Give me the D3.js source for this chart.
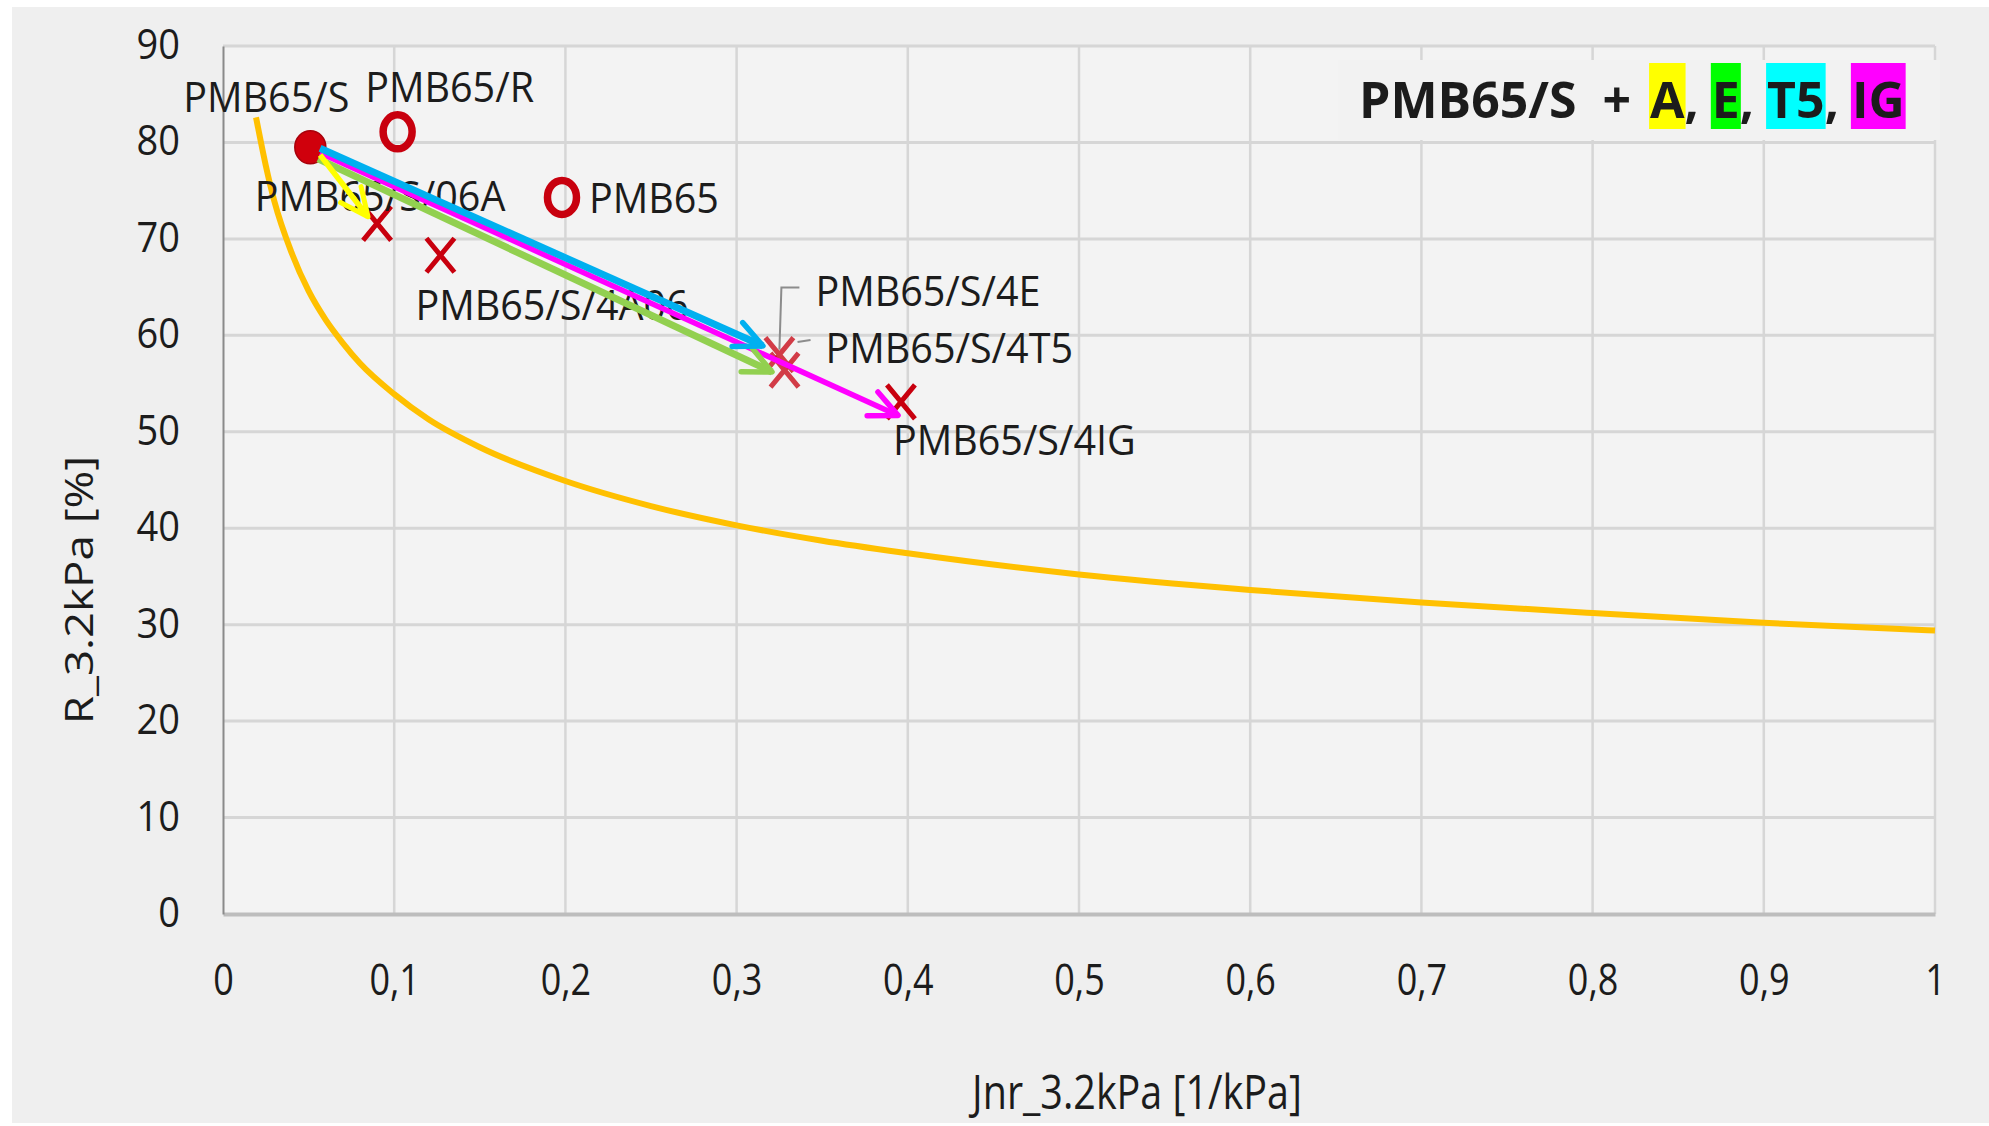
<!DOCTYPE html>
<html lang="en">

<head>
    <meta charset="UTF-8">
    <script src="https://d3js.org/d3.v7.min.js"></script>
    <title>R_3.2kPa vs Jnr_3.2kPa</title>

    <style>
        body {
            margin: 0;
            background: #fff;
        }

        svg text {
            font-family: "Open Sans", sans-serif;
            fill: #1c1c1c;
        }
    </style>
</head>

<body>
    <div id="chart"></div>

    <script>
        /*** DATA ***/
        // Orange limit curve
        var curveJnr = [0.0193, 0.025, 0.03, 0.04, 0.05, 0.06, 0.07, 0.08, 0.1, 0.12, 0.15, 0.2, 0.25, 0.3, 0.35, 0.4, 0.5, 0.6, 0.7, 0.8, 0.9, 1.0];
        var curveR = [82.6, 77.6, 73.9, 68.6, 64.6, 61.6, 59.2, 57.1, 53.9, 51.3, 48.4, 44.9, 42.3, 40.3, 38.7, 37.4, 35.2, 33.6, 32.3, 31.2, 30.2, 29.4];

        // Binder samples
        var sampleNames = ["PMB65/S", "PMB65/R", "PMB65", "PMB65/S/06A", "PMB65/S/4A06", "PMB65/S/4E", "PMB65/S/4T5", "PMB65/S/4IG"];
        var sampleJnr = [0.051, 0.102, 0.198, 0.090, 0.127, 0.325, 0.328, 0.396];
        var sampleR = [79.5, 81.1, 74.3, 71.6, 68.3, 58.0, 56.4, 53.1];
        var sampleMarker = ["dot", "ring", "ring", "cross", "cross", "cross", "cross", "cross"];

        // Arrows from PMB65/S towards the modified binders
        var arrowColors = ["#ff00ff", "#92d050", "#00b0f0", "#ffff00"];
        var arrowFromJnr = [0.0567, 0.0555, 0.0567, 0.0567];
        var arrowFromR = [78.9, 78.3, 79.4, 78.7];
        var arrowToJnr = [0.3943, 0.3207, 0.3154, 0.0847];
        var arrowToR = [51.7, 56.2, 58.9, 72.3];

        // Axis ticks
        var xTicks = [0, 0.1, 0.2, 0.3, 0.4, 0.5, 0.6, 0.7, 0.8, 0.9, 1];
        var yTicks = [0, 10, 20, 30, 40, 50, 60, 70, 80, 90];

        // Legend text pieces
        var legendParts = ["PMB65/S", "  + ", "A", ", ", "E", ", ", "T5", ", ", "IG"];
        var legendHighlight = [null, null, "#ffff00", null, "#00ff00", null, "#00ffff", null, "#ff00ff"];

        /*** LAYOUT ***/
        var width = 1989,
            height = 1126;

        var x = d3.scaleLinear().domain([0, 1]).range([223, 1935]);
        var y = d3.scaleLinear().domain([0, 90]).range([914, 46]);

        // label offsets in px from the marker (dx, dy, anchor)
        var labelPos = {
            "PMB65/S": [-44, -50, "middle"],
            "PMB65/R": [52, -45, "middle"],
            "PMB65": [27, 1, "start"],
            "PMB65/S/06A": [3, -28, "middle"],
            "PMB65/S/4A06": [-25, 50, "start"],
            "PMB65/S/4E": [36, -64, "start"],
            "PMB65/S/4T5": [41, -22, "start"],
            "PMB65/S/4IG": [-8, 38, "start"]
        };

        var svg = d3.select("#chart")
            .append("svg")
            .attr("width", width)
            .attr("height", height);

        // backgrounds
        svg.append("rect").attr("width", width).attr("height", height).attr("fill", "#ffffff");
        svg.append("rect")
            .attr("x", 12).attr("y", 7)
            .attr("width", width - 12).attr("height", height - 10)
            .attr("fill", "#efefef");
        svg.append("rect")
            .attr("x", x(0)).attr("y", y(90))
            .attr("width", x(1) - x(0)).attr("height", y(0) - y(90))
            .attr("fill", "#f3f3f3");

        // grid
        svg.append("g").selectAll("line")
            .data(yTicks.slice(1))
            .enter().append("line")
            .attr("x1", x(0)).attr("x2", x(1))
            .attr("y1", function (d) { return y(d); })
            .attr("y2", function (d) { return y(d); })
            .attr("stroke", "#d6d6d6")
            .attr("stroke-width", 3);

        svg.append("g").selectAll("line")
            .data(xTicks.slice(1))
            .enter().append("line")
            .attr("x1", function (d) { return x(d); })
            .attr("x2", function (d) { return x(d); })
            .attr("y1", y(90)).attr("y2", y(0))
            .attr("stroke", "#d6d6d6")
            .attr("stroke-width", 2.5);

        // axes
        var xAxis = d3.axisBottom(x)
            .tickValues(xTicks)
            .tickSize(0)
            .tickFormat(function (d) { return String(d).replace(".", ","); });

        var gx = svg.append("g")
            .attr("transform", "translate(0," + y(0) + ")")
            .call(xAxis)
            .attr("font-family", null)
            .attr("font-size", 36);
        gx.select(".domain")
            .attr("stroke", "#bdbdbd")
            .attr("stroke-width", 4);
        gx.selectAll(".tick text")
            .attr("y", 0)
            .attr("dy", "0.36em")
            .attr("transform", "translate(0,65) scale(1,1.22)");

        var yAxis = d3.axisLeft(y)
            .tickValues(yTicks)
            .tickSize(0)
            .tickPadding(43);

        var gy = svg.append("g")
            .attr("transform", "translate(" + x(0) + ",0)")
            .call(yAxis)
            .attr("font-family", null)
            .attr("font-size", 38);
        gy.select(".domain")
            .attr("stroke", "#8a8a8a")
            .attr("stroke-width", 2);
        gy.selectAll(".tick text")
            .attr("dy", "0.34em")
            .attr("transform", "translate(0,-2) scale(1,1.12)");

        // axis titles
        svg.append("text")
            .attr("transform", "translate(1137,1092) scale(1,1.2)")
            .attr("text-anchor", "middle")
            .attr("dy", "0.35em")
            .attr("font-size", 39.5)
            .text("Jnr_3.2kPa [1/kPa]");

        svg.append("text")
            .attr("transform", "translate(80,590) rotate(-90) scale(1.2,1)")
            .attr("text-anchor", "middle")
            .attr("dy", "0.35em")
            .attr("font-size", 38)
            .text("R_3.2kPa [%]");

        // limit curve
        var line = d3.line()
            .x(function (d, i) { return x(curveJnr[i]); })
            .y(function (d, i) { return y(curveR[i]); })
            .curve(d3.curveMonotoneX);

        svg.append("path")
            .attr("d", line(curveJnr))
            .attr("fill", "none")
            .attr("stroke", "#ffc000")
            .attr("stroke-width", 6);

        // leader lines for the two crowded labels
        var leaders = [
            [[0, -5], [2, -67], [20, -67]],
            [[13, -28], [26, -30]]
        ];
        [5, 6].forEach(function (k, j) {
            var px = x(sampleJnr[k]), py = y(sampleR[k]);
            svg.append("path")
                .attr("d", d3.line()(leaders[j].map(function (p) { return [px + p[0], py + p[1]]; })))
                .attr("fill", "none")
                .attr("stroke", "#8c8c8c")
                .attr("stroke-width", 2);
        });

        // markers
        var red = "#c8000e";
        var mark = svg.selectAll(".mark")
            .data(sampleNames)
            .enter().append("g")
            .attr("class", "mark")
            .attr("transform", function (d, i) {
                return "translate(" + x(sampleJnr[i]) + "," + y(sampleR[i]) + ")";
            });

        mark.each(function (d, i) {
            var g = d3.select(this);
            if (sampleMarker[i] === "dot") {
                g.append("ellipse").attr("rx", 15.5).attr("ry", 16.5)
                    .attr("fill", "#d0000c").attr("stroke", "#a8000a").attr("stroke-width", 1.5);
            } else if (sampleMarker[i] === "ring") {
                g.append("ellipse").attr("rx", 14.5).attr("ry", 17)
                    .attr("fill", "none").attr("stroke", red).attr("stroke-width", 7.5);
            } else {
                g.append("path")
                    .attr("d", "M-14,-17L14,17M14,-17L-14,17")
                    .attr("stroke", red)
                    .attr("stroke-width", 5)
                    .attr("opacity", i === 5 || i === 6 ? 0.75 : 1);
            }
        });

        // point labels
        svg.selectAll(".lbl")
            .data(sampleNames)
            .enter().append("text")
            .attr("class", "lbl")
            .attr("transform", function (d, i) {
                var p = labelPos[d];
                return "translate(" + (x(sampleJnr[i]) + p[0]) + "," + (y(sampleR[i]) + p[1]) + ") scale(1,1.06)";
            })
            .attr("text-anchor", function (d) { return labelPos[d][2]; })
            .attr("dy", "0.36em")
            .attr("font-size", 39.5)
            .text(function (d) { return d; });

        // arrows
        var defs = svg.append("defs");
        arrowColors.forEach(function (c, i) {
            defs.append("marker")
                .attr("id", "head" + i)
                .attr("viewBox", "0 0 36 36")
                .attr("refX", 33)
                .attr("refY", 18)
                .attr("markerWidth", 36)
                .attr("markerHeight", 36)
                .attr("markerUnits", "userSpaceOnUse")
                .attr("orient", "auto")
                .append("path")
                .attr("d", "M5,5L33,18L5,31")
                .attr("fill", "none")
                .attr("stroke", c)
                .attr("stroke-width", i === 3 ? 5 : 5.5)
                .attr("stroke-linecap", "round")
                .attr("stroke-linejoin", "round");
        });

        svg.selectAll(".arrow")
            .data(arrowColors)
            .enter().append("line")
            .attr("class", "arrow")
            .attr("x1", function (d, i) { return x(arrowFromJnr[i]); })
            .attr("y1", function (d, i) { return y(arrowFromR[i]); })
            .attr("x2", function (d, i) { return x(arrowToJnr[i]); })
            .attr("y2", function (d, i) { return y(arrowToR[i]); })
            .attr("stroke", function (d) { return d; })
            .attr("stroke-width", function (d, i) { return i === 0 || i === 3 ? 5.5 : 7; })
            .attr("marker-end", function (d, i) { return "url(#head" + i + ")"; });

        // legend box
        svg.append("rect")
            .attr("x", 1338).attr("y", 60)
            .attr("width", 602).attr("height", 80)
            .attr("fill", "#f2f2f2");

        var legend = svg.append("g");
        var cx = 1359;
        legendParts.forEach(function (t, i) {
            var bg = legend.append("rect");
            var tx = legend.append("text")
                .attr("x", cx)
                .attr("y", 118)
                .attr("font-size", 50)
                .attr("font-weight", "bold")
                .style("white-space", "pre")
                .text(t);
            var w = tx.node().getComputedTextLength();
            if (legendHighlight[i]) {
                bg.attr("x", cx - 1).attr("y", 63)
                    .attr("width", w + 2).attr("height", 66)
                    .attr("fill", legendHighlight[i]);
            } else {
                bg.remove();
            }
            cx += w + (i === 1 ? 6 : 0);
        });
    </script>
</body>

</html>
